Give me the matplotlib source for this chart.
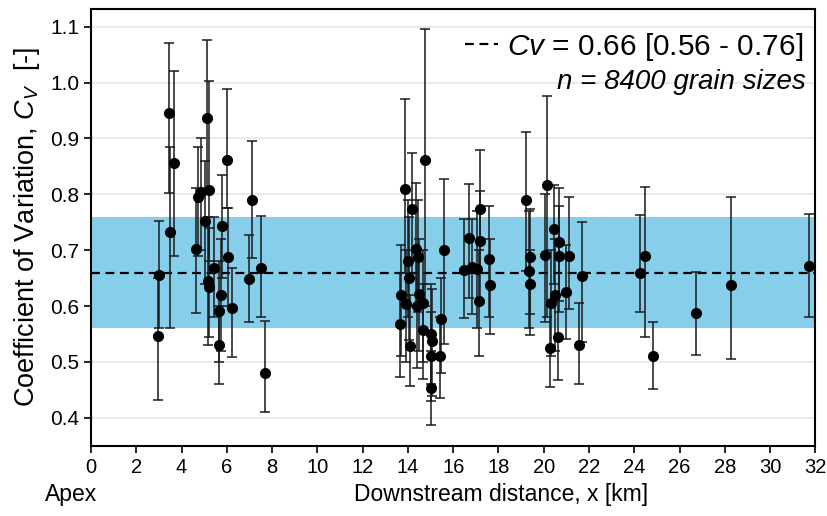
import numpy as np
import matplotlib
matplotlib.use("Agg")
import matplotlib.pyplot as plt

plt.rcParams['font.family'] = ['Liberation Sans', 'DejaVu Sans']
plt.rcParams['mathtext.fontset'] = 'custom'
plt.rcParams['mathtext.rm'] = 'Liberation Sans'
plt.rcParams['mathtext.it'] = 'Liberation Sans:italic'

# distance downstream [km], Cv, lower / upper end of error bar
dist = [3.02, 2.98, 3.45, 3.49, 3.67,
        4.66, 4.71, 4.86, 5.03, 5.11, 5.20, 5.17, 5.20, 5.42, 5.67, 5.67, 5.75, 5.78, 6.01, 6.06, 6.22,
        6.97, 7.12, 7.50, 7.70,
        13.63, 13.69, 13.85, 13.92, 14.00, 14.04, 14.08, 14.16, 14.34, 14.41, 14.45, 14.51,
        14.66, 14.66, 14.75, 15.04, 15.07, 15.04, 15.01, 15.40, 15.44, 15.59,
        16.46, 16.68, 16.83, 17.05, 17.17, 17.17, 17.13, 17.60, 17.63,
        19.23, 19.33, 19.40, 19.40, 20.04, 20.14, 20.29, 20.33, 20.47, 20.48, 20.61, 20.66, 20.69,
        21.00, 21.10, 21.57, 21.69,
        24.25, 24.49, 24.82, 26.72, 28.29, 31.73]
cv = [0.655, 0.546, 0.945, 0.733, 0.856,
      0.702, 0.795, 0.804, 0.753, 0.937, 0.808, 0.645, 0.635, 0.669, 0.591, 0.530, 0.619, 0.744, 0.862, 0.688, 0.597,
      0.648, 0.789, 0.668, 0.481,
      0.568, 0.619, 0.809, 0.604, 0.681, 0.650, 0.529, 0.773, 0.702, 0.601, 0.688, 0.622,
      0.605, 0.558, 0.861, 0.550, 0.538, 0.510, 0.453, 0.510, 0.577, 0.700,
      0.664, 0.721, 0.670, 0.666, 0.774, 0.716, 0.609, 0.685, 0.637,
      0.790, 0.662, 0.687, 0.640, 0.691, 0.817, 0.525, 0.605, 0.738, 0.620, 0.545, 0.690, 0.714,
      0.625, 0.690, 0.531, 0.653,
      0.660, 0.689, 0.510, 0.587, 0.637, 0.672]
lo = [0.560, 0.432, 0.803, 0.560, 0.689,
      0.588, 0.690, 0.700, 0.640, 0.800, 0.680, 0.530, 0.544, 0.580, 0.500, 0.460, 0.520, 0.650, 0.776, 0.600, 0.509,
      0.572, 0.686, 0.580, 0.410,
      0.473, 0.510, 0.660, 0.500, 0.580, 0.540, 0.457, 0.650, 0.600, 0.490, 0.590, 0.520,
      0.500, 0.470, 0.600, 0.460, 0.440, 0.430, 0.388, 0.436, 0.480, 0.533,
      0.579, 0.615, 0.585, 0.560, 0.660, 0.610, 0.510, 0.580, 0.550,
      0.662, 0.560, 0.548, 0.585, 0.571, 0.580, 0.455, 0.510, 0.640, 0.520, 0.467, 0.590, 0.610,
      0.542, 0.595, 0.461, 0.536,
      0.590, 0.544, 0.452, 0.513, 0.506, 0.580]
hi = [0.753, 0.650, 1.070, 0.885, 1.020,
      0.812, 0.884, 0.900, 0.860, 1.076, 1.003, 0.760, 0.740, 0.760, 0.680, 0.600, 0.720, 0.835, 0.988, 0.776, 0.669,
      0.727, 0.895, 0.762, 0.573,
      0.660, 0.710, 0.970, 0.700, 0.790, 0.760, 0.620, 0.874, 0.820, 0.700, 0.790, 0.720,
      0.700, 0.640, 1.096, 0.640, 0.630, 0.590, 0.520, 0.580, 0.650, 0.828,
      0.755, 0.818, 0.756, 0.770, 0.879, 0.806, 0.700, 0.780, 0.720,
      0.912, 0.770, 0.774, 0.700, 0.800, 0.976, 0.600, 0.700, 0.817, 0.720, 0.620, 0.780, 0.812,
      0.710, 0.795, 0.606, 0.750,
      0.763, 0.813, 0.572, 0.661, 0.795, 0.765]

cv_mean = 0.66
cv_lo, cv_hi = 0.56, 0.76
n_grains = 8400

dist = np.array(dist)
cv = np.array(cv)
yerr = np.vstack([cv - np.array(lo), np.array(hi) - cv])

fig = plt.figure(figsize=(8.27, 5.16), dpi=100)
ax = fig.add_axes([0.110, 0.136, 0.876, 0.847])

ax.axhspan(cv_lo, cv_hi, color='#87CEEB', lw=0, zorder=1)
ax.grid(axis='y', color='#e6e6e6', lw=1.2, zorder=0)
ax.set_axisbelow(True)
line, = ax.plot([0, 32], [cv_mean, cv_mean], ls=(0, (4, 2.5)), color='black', lw=1.6, zorder=2)

ax.errorbar(dist, cv, yerr=yerr, fmt='o', color='black', ecolor='#1a1a1a',
            ms=7, elinewidth=1.1, capsize=3.5, capthick=1.1, zorder=3)

ax.set_xlim(0, 32)
ax.set_ylim(0.35, 1.132)
ax.set_xticks(np.arange(0, 33, 2))
ax.set_xticklabels([str(v) for v in range(0, 33, 2)], fontsize=14.5)
ax.set_yticks(np.arange(0.4, 1.15, 0.1))
ax.set_yticklabels(['%.1f' % v for v in np.arange(0.4, 1.15, 0.1)], fontsize=15)
ax.tick_params(direction='out', length=5, width=1.2)
ax.tick_params(axis='x', pad=4)
for s in ax.spines.values():
    s.set_linewidth(1.5)

ax.text(0.566, -0.112, 'Downstream distance, x [km]', transform=ax.transAxes,
        fontsize=16.5, ha='center', va='center')
ax.text(-0.064, -0.112, 'Apex', transform=ax.transAxes,
        fontsize=16.5, ha='left', va='center')
ax.set_ylabel(r'Coefficient of Variation, $C_V$  [-]', fontsize=19.5, labelpad=6)

leg = ax.legend([line], [r'$Cv$ = %.2f [%.2f - %.2f]' % (cv_mean, cv_lo, cv_hi)],
                loc='center right', bbox_to_anchor=(1.0, 0.913), frameon=False,
                fontsize=21.5, handlelength=1.1, handletextpad=0.3, borderaxespad=0.0)
ax.text(0.986, 0.833, 'n = %d grain sizes' % n_grains, transform=ax.transAxes,
        fontsize=20, fontstyle='italic', ha='right', va='center')

fig.savefig('out.png', dpi=100)
